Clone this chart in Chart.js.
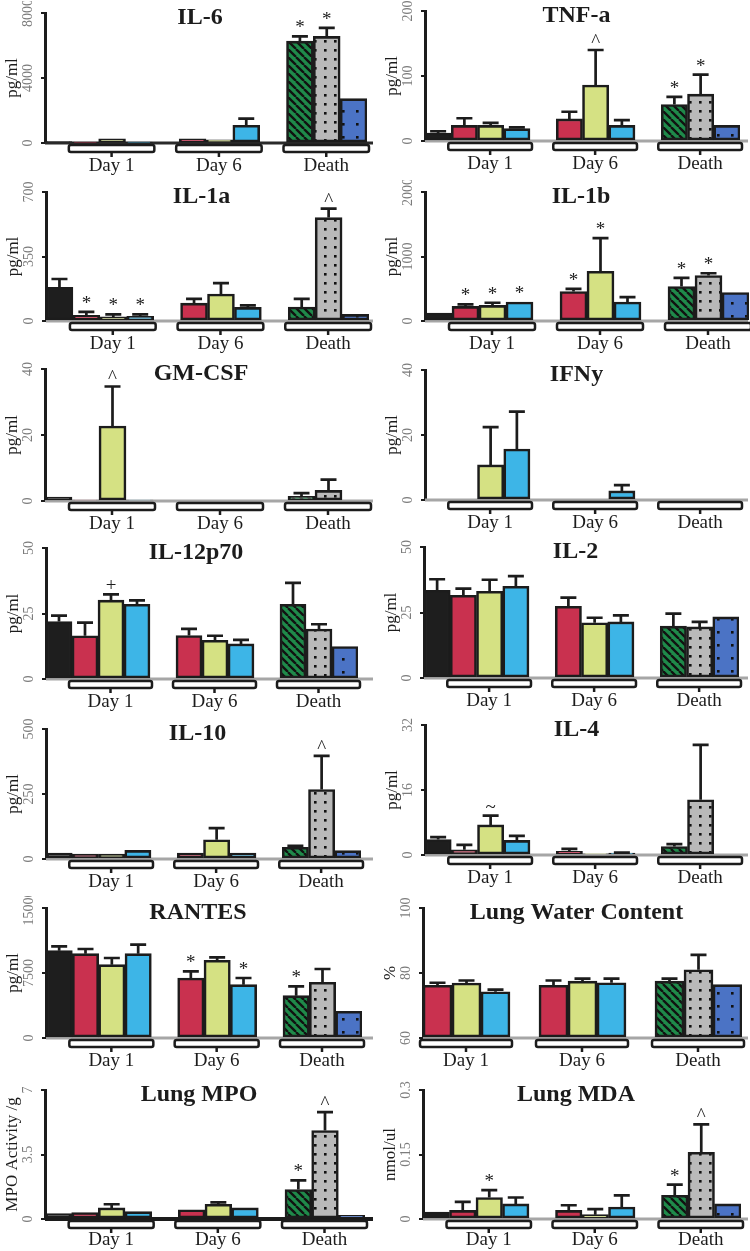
<!DOCTYPE html>
<html><head><meta charset="utf-8">
<script src="https://cdn.jsdelivr.net/npm/chart.js@4.4.1/dist/chart.umd.min.js"></script>
<style>
html,body{margin:0;padding:0;background:#fff;}
body{width:750px;height:1251px;position:relative;overflow:hidden;}
.p{position:absolute;width:375px;}
canvas{display:block;}
</style></head><body>
<script>
// ---------- DATA ----------
// bar order: [Control, Day1 red, Day1 yellow, Day1 blue, Day6 red, Day6 yellow, Day6 blue, Death green, Death gray, Death blue]
const groups = ['Day 1', 'Day 6', 'Death'];
const barKeys = ['Control','Day 1 a','Day 1 b','Day 1 c','Day 6 a','Day 6 b','Day 6 c','Death a','Death b','Death c'];
const groupBars = [[1,2,3],[4,5,6],[7,8,9]];

const il6Ticks = [0, 4000, 8000];
const il6Mean = [80, 40, 250, 40, 260, 200, 1090, 6270, 6560, 2730];
const il6Err  = [null, null, null, null, null, null, 1500, 6560, 7090, null];
const il6Sig  = ['', '', '', '', '', '', '', '*', '*', ''];

const tnfTicks = [0, 100, 200];
const tnfMean = [12, 24, 24, 19, 34, 86, 24, 56, 72, 24];
const tnfErr  = [15, 35, 28, 21, 45, 140, 32, 68, 102, null];
const tnfSig  = ['', '', '', '', '', '^', '', '*', '*', ''];

const il1aTicks = [0, 350, 700];
const il1aMean = [183, 31, 22, 25, 97, 146, 74, 76, 561, 36];
const il1aErr  = [228, 49, 36, 36, 120, 205, 85, 120, 610, null];
const il1aSig  = ['', '*', '*', '*', '', '', '', '', '^', ''];

const il1bTicks = [0, 1000, 2000];
const il1bMean = [123, 226, 242, 293, 458, 771, 293, 535, 704, 442];
const il1bErr  = [null, 257, 283, null, 499, 1285, 370, 668, 740, null];
const il1bSig  = ['', '*', '*', '*', '*', '*', '', '*', '*', ''];

const gmTicks = [0, 20, 40];
const gmMean = [1.2, 0.3, 22.7, 0.3, 0, 0, 0, 1.4, 3.2, 0];
const gmErr  = [null, null, 34.7, null, null, null, null, 2.4, 6.5, null];
const gmSig  = ['', '', '^', '', '', '', '', '', '', ''];

const ifnTicks = [0, 20, 40];
const ifnMean = [0, 0, 10.8, 15.7, 0, 0, 2.8, 0, 0, 0];
const ifnErr  = [null, null, 22.4, 27.2, null, null, 4.6, null, null, null];
const ifnSig  = ['', '', '', '', '', '', '', '', '', ''];

const il12Ticks = [0, 25, 50];
const il12Mean = [21.9, 16.5, 30.1, 28.5, 16.6, 14.8, 13.4, 28.5, 19.1, 12.4];
const il12Err  = [24.2, 21.5, 32.3, 30, 19.1, 16.5, 14.9, 36.7, 20.9, null];
const il12Sig  = ['', '', '+', '', '', '', '', '', '', ''];

const il2Ticks = [0, 25, 50];
const il2Mean = [33.5, 31.6, 33.1, 35, 27.4, 21.1, 21.4, 19.8, 19.5, 23.3];
const il2Err  = [37.7, 34.1, 37.5, 38.9, 30.7, 23, 23.9, 24.6, 21.4, null];
const il2Sig  = ['', '', '', '', '', '', '', '', '', ''];

const il10Ticks = [0, 250, 500];
const il10Mean = [23, 19, 19, 33, 23, 74, 23, 45, 267, 32];
const il10Err  = [null, null, null, null, null, 119, null, 51, 397, null];
const il10Sig  = ['', '', '', '', '', '', '', '', '^', ''];

const il4Ticks = [0, 16, 32];
const il4Mean = [3.8, 1.3, 7.4, 3.6, 0.9, 0.3, 0.5, 2.1, 13.6, 0];
const il4Err  = [4.4, 2.5, 9.7, 4.7, 1.5, null, 0.6, 2.7, 27.1, null];
const il4Sig  = ['', '', '~', '', '', '', '', '', '', ''];

const rantesTicks = [0, 7500, 15000];
const rantesMean = [10077, 9731, 8462, 9731, 6923, 8962, 6154, 4885, 6423, 3077];
const rantesErr  = [10577, 10270, 9231, 10770, 7692, 9308, 6923, 5962, 7962, null];
const rantesSig  = ['', '', '', '', '*', '', '*', '*', '', ''];

const lwcTicks = [60, 80, 100];
const lwcMean = [null, 76.2, 76.9, 74.2, 76.2, 77.5, 77, 77.5, 81, 76.4];
const lwcErr  = [null, 77, 77.7, 74.9, 77.7, 78.3, 78.3, 78.3, 85.6, null];
const lwcSig  = ['', '', '', '', '', '', '', '', '', ''];

const mpoTicks = [0, 3.5, 7];
const mpoMean = [0.3, 0.35, 0.6, 0.4, 0.5, 0.8, 0.6, 1.6, 4.8, 0.2];
const mpoErr  = [null, null, 0.8, null, null, 0.9, null, 2.1, 5.8, null];
const mpoSig  = ['', '', '', '', '', '', '', '*', '^', ''];

const mdaTicks = [0, 0.15, 0.3];
const mdaMean = [0.016, 0.02, 0.05, 0.035, 0.02, 0.01, 0.028, 0.055, 0.155, 0.035];
const mdaErr  = [null, 0.04, 0.067, 0.05, 0.032, 0.023, 0.055, 0.08, 0.22, null];
const mdaSig  = ['', '', '*', '', '', '', '', '*', '^', ''];

// ---------- LAYOUT / STYLE ----------
const panels = [
  {title:'IL-6', unit:'pg/ml', ticks:il6Ticks, mean:il6Mean, err:il6Err, sig:il6Sig, col:0, top:13, zero:143, axis:45, right:367, baseColor:'#2a2a2a'},
  {title:'TNF-a', unit:'pg/ml', ticks:tnfTicks, mean:tnfMean, err:tnfErr, sig:tnfSig, col:1, top:11, zero:141, axis:425, right:740},
  {title:'IL-1a', unit:'pg/ml', ticks:il1aTicks, mean:il1aMean, err:il1aErr, sig:il1aSig, col:0, top:192, zero:321, axis:46, right:369},
  {title:'IL-1b', unit:'pg/ml', ticks:il1bTicks, mean:il1bMean, err:il1bErr, sig:il1bSig, col:1, top:192, zero:321, axis:425, right:749},
  {title:'GM-CSF', unit:'pg/ml', ticks:gmTicks, mean:gmMean, err:gmErr, sig:gmSig, col:0, top:369, zero:501, axis:45, right:369},
  {title:'IFNy', unit:'pg/ml', ticks:ifnTicks, mean:ifnMean, err:ifnErr, sig:ifnSig, col:1, top:370, zero:500, axis:425, right:740},
  {title:'IL-12p70', unit:'pg/ml', ticks:il12Ticks, mean:il12Mean, err:il12Err, sig:il12Sig, col:0, top:548, zero:679, axis:46, right:358},
  {title:'IL-2', unit:'pg/ml', ticks:il2Ticks, mean:il2Mean, err:il2Err, sig:il2Sig, col:1, top:547, zero:678, axis:424, right:739},
  {title:'IL-10', unit:'pg/ml', ticks:il10Ticks, mean:il10Mean, err:il10Err, sig:il10Sig, col:0, top:729, zero:859, axis:46, right:361},
  {title:'IL-4', unit:'pg/ml', ticks:il4Ticks, mean:il4Mean, err:il4Err, sig:il4Sig, col:1, top:725, zero:855, axis:425, right:740},
  {title:'RANTES', unit:'pg/ml', ticks:rantesTicks, mean:rantesMean, err:rantesErr, sig:rantesSig, col:0, top:908, zero:1038, axis:46, right:362},
  {title:'Lung Water Content', unit:'%', ticks:lwcTicks, mean:lwcMean, err:lwcErr, sig:lwcSig, col:1, top:908, zero:1038, axis:423, right:742},
  {title:'Lung MPO', unit:'MPO Activity /g', ticks:mpoTicks, mean:mpoMean, err:mpoErr, sig:mpoSig, col:0, top:1090, zero:1219, axis:45, right:365, baseColor:'#1c1c1c', baseWidth:4, labelGap:21},
  {title:'Lung MDA', unit:'nmol/ul', ticks:mdaTicks, mean:mdaMean, err:mdaErr, sig:mdaSig, col:1, top:1090, zero:1219, axis:423, right:741, labelGap:21}
];

const SERIF = '"Liberation Serif","Times New Roman",serif';
const INK = '#1c1c1c';

function pattern(w, h, bg, draw) {
  const c = document.createElement('canvas'); c.width = w; c.height = h;
  const g = c.getContext('2d'); g.fillStyle = bg; g.fillRect(0, 0, w, h); draw(g);
  return g.createPattern(c, 'repeat');
}
const greenHatch = pattern(8, 8, '#1f8a4a', g => {
  g.strokeStyle = '#111'; g.lineWidth = 2.3; g.beginPath();
  for (const o of [-8, 0, 8]) { g.moveTo(o, 0); g.lineTo(o + 8, 8); }
  g.stroke();
});
const grayDots = pattern(10, 9, '#b9b9b9', g => { g.fillStyle = '#111'; g.fillRect(4, 3, 2.6, 2.6); });
const blueDots = pattern(14, 13, '#4b73c5', g => { g.fillStyle = '#111'; g.fillRect(6, 5, 2.6, 2.6); });
const barColors = ['#1e1e1e', '#c9314f', '#d5e183', '#3db5e7', '#c9314f', '#d5e183', '#3db5e7', greenHatch, grayDots, blueDots];

function roundRectPath(ctx, x, y, w, h, r) {
  ctx.beginPath();
  ctx.moveTo(x + r, y); ctx.lineTo(x + w - r, y); ctx.arcTo(x + w, y, x + w, y + r, r);
  ctx.lineTo(x + w, y + h - r); ctx.arcTo(x + w, y + h, x + w - r, y + h, r);
  ctx.lineTo(x + r, y + h); ctx.arcTo(x, y + h, x, y + h - r, r);
  ctx.lineTo(x, y + r); ctx.arcTo(x, y, x + r, y, r); ctx.closePath();
}

function deco(p, order) {
  return {
    id: 'deco',
    beforeDatasetsDraw(chart) {
      const {ctx, chartArea: a} = chart; const ys = chart.scales.y;
      const y0 = ys.getPixelForValue(p.ticks[0]);
      ctx.save(); ctx.strokeStyle = p.baseColor || '#a6a6a6'; ctx.lineWidth = p.baseWidth || 3;
      ctx.beginPath(); ctx.moveTo(a.left, y0); ctx.lineTo(chart.width - 2, y0); ctx.stroke(); ctx.restore();
    },
    afterDatasetsDraw(chart) {
      const ctx = chart.ctx; const ys = chart.scales.y; const meta = chart.getDatasetMeta(0);
      ctx.save();
      order.forEach((b, i) => {
        if (b < 0) return; const m = p.mean[b]; if (m === null) return;
        const x = meta.data[i].x; const e = p.err[b];
        let topY = ys.getPixelForValue(m);
        if (e !== null && e !== undefined && e > m) {
          const ey = ys.getPixelForValue(e);
          ctx.strokeStyle = INK; ctx.lineWidth = 2.7; ctx.lineCap = 'butt';
          ctx.beginPath(); ctx.moveTo(x, topY); ctx.lineTo(x, ey);
          ctx.moveTo(x - 8, ey); ctx.lineTo(x + 8, ey); ctx.stroke();
          topY = ey;
        }
        const s = p.sig[b];
        if (s) {
          ctx.fillStyle = INK; ctx.font = '19px ' + SERIF; ctx.textAlign = 'center'; ctx.textBaseline = 'alphabetic';
          ctx.fillText(s, x, topY - 3);
        }
      });
      ctx.restore();
    },
    afterDraw(chart) {
      const {ctx, chartArea: a} = chart; const ys = chart.scales.y; const xs = chart.scales.x;
      ctx.save();
      // tick labels (rotated, reading upward)
      ctx.fillStyle = '#7c7c7c'; ctx.font = '14px ' + SERIF; ctx.textAlign = 'center'; ctx.textBaseline = 'alphabetic';
      p.ticks.forEach(v => {
        const y = ys.getPixelForValue(v);
        ctx.save(); ctx.translate(a.left - 13, y); ctx.rotate(-Math.PI / 2); ctx.fillText(String(v), 0, 0); ctx.restore();
      });
      // axis title
      ctx.fillStyle = INK; ctx.font = '17px ' + SERIF;
      ctx.save(); ctx.translate(a.left - 28, (a.top + a.bottom) / 2); ctx.rotate(-Math.PI / 2); ctx.fillText(p.unit, 0, 0); ctx.restore();
      // panel title
      ctx.textBaseline = 'middle';
      ctx.font = 'bold 24px ' + SERIF; ctx.fillText(p.title, (a.left + a.right) / 2 - 6, a.top + 5);
      // group brackets
      const y0 = ys.getPixelForValue(p.ticks[0]);
      const slotW = xs.getPixelForValue(1) - xs.getPixelForValue(0);
      groupBars.forEach((gb, gi) => {
        const idx = order.map((b, i) => gb.includes(b) ? i : -1).filter(i => i >= 0);
        const x1 = xs.getPixelForValue(idx[0]) - slotW / 2 - 3;
        const x2 = xs.getPixelForValue(idx[idx.length - 1]) + slotW / 2 + 2;
        roundRectPath(ctx, x1, y0 + 2, x2 - x1, 7, 2);
        ctx.fillStyle = '#fff'; ctx.fill(); ctx.lineWidth = 2.5; ctx.strokeStyle = INK; ctx.stroke();
        const cx = (x1 + x2) / 2;
        ctx.beginPath(); ctx.moveTo(cx, y0 + 9); ctx.lineTo(cx, y0 + 14); ctx.stroke();
        ctx.fillStyle = INK; ctx.font = '19px ' + SERIF; ctx.textAlign = 'center'; ctx.textBaseline = 'middle';
        ctx.fillText(groups[gi], cx, y0 + (p.labelGap || 23));
      });
      ctx.restore();
    }
  };
}

panels.forEach(p => {
  const x0 = p.col * 375; const plotH = p.zero - p.top; const H = plotH + 12 + 42;
  const div = document.createElement('div'); div.className = 'p';
  div.style.left = x0 + 'px'; div.style.top = (p.top - 12) + 'px'; div.style.height = H + 'px';
  const cv = document.createElement('canvas'); cv.width = 375; cv.height = H;
  cv.style.width = '375px'; cv.style.height = H + 'px';
  div.appendChild(cv); document.body.appendChild(div);

  const order = p.mean[0] === null ? [1,2,3,-1,4,5,6,-1,7,8,9] : [0,1,2,3,-1,4,5,6,-1,7,8,9];
  const labels = order.map((b, i) => b < 0 ? 'gap' + i : barKeys[b]);
  const data = order.map(b => b < 0 ? null : p.mean[b]);
  const colors = order.map(b => b < 0 ? 'rgba(0,0,0,0)' : barColors[b]);
  const axisLocal = p.axis - x0, rightLocal = p.right - x0;

  new Chart(cv, {
    type: 'bar',
    data: { labels, datasets: [{ data, backgroundColor: colors, borderColor: INK, borderWidth: 2.6,
      borderSkipped: false, barPercentage: 1, categoryPercentage: 1, base: p.ticks[0] }] },
    options: {
      responsive: false, animation: false, devicePixelRatio: 1, events: [],
      layout: { padding: { left: axisLocal - 5, right: Math.max(0, 375 - rightLocal), top: 12, bottom: 42 } },
      plugins: { legend: { display: false }, title: { display: false }, tooltip: { enabled: false } },
      scales: {
        x: { type: 'category', display: false, offset: true },
        y: {
          min: p.ticks[0], max: p.ticks[p.ticks.length - 1],
          afterBuildTicks: s => { s.ticks = p.ticks.map(v => ({ value: v })); },
          afterFit: s => { s.width = 5; },
          ticks: { display: false },
          grid: { display: true, drawOnChartArea: false, drawTicks: true, tickLength: 4, color: INK, lineWidth: 2 },
          border: { display: true, color: INK, width: 3 }
        }
      }
    },
    plugins: [deco(p, order)]
  });
});
</script>
</body></html>
